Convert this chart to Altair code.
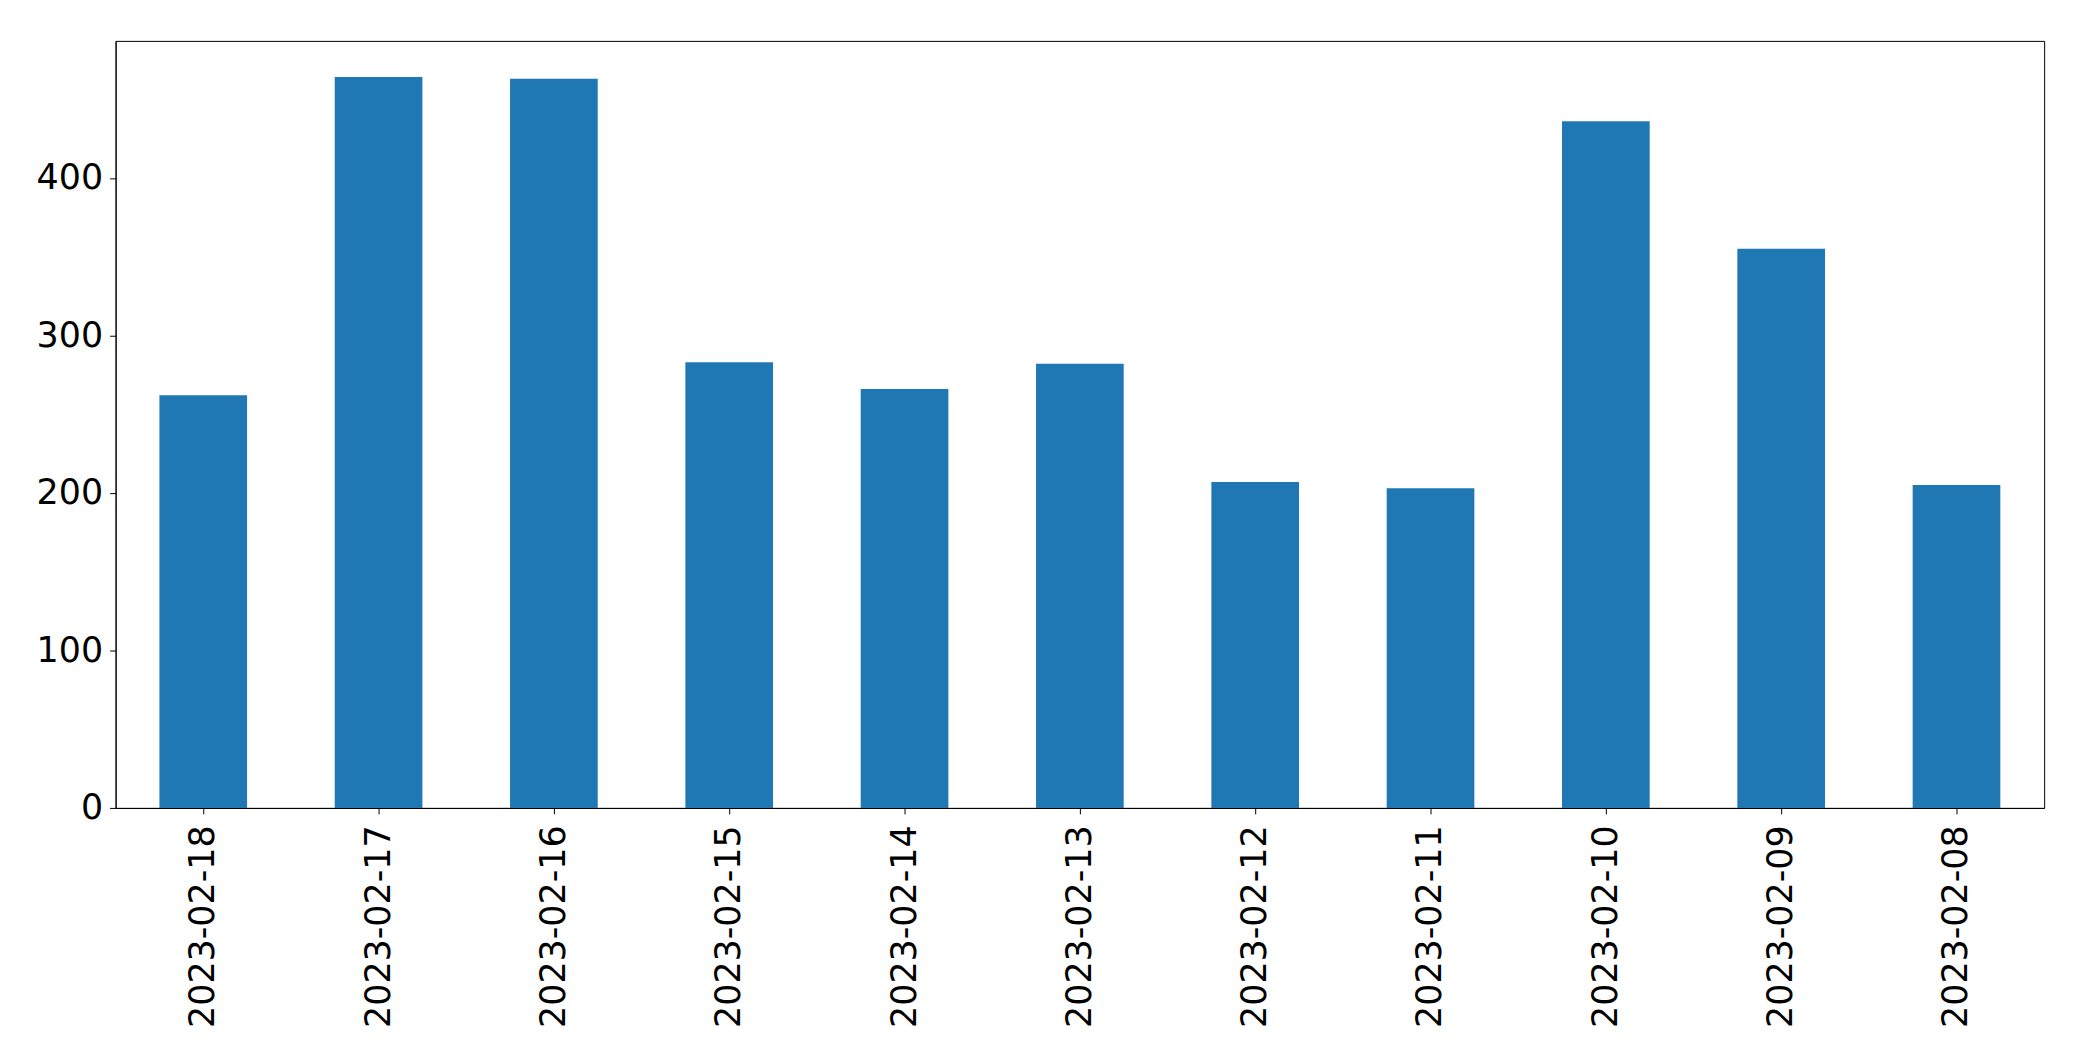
import altair as alt
import pandas as pd

dates = ["2023-02-18", "2023-02-17", "2023-02-16", "2023-02-15", "2023-02-14",
         "2023-02-13", "2023-02-12", "2023-02-11", "2023-02-10", "2023-02-09",
         "2023-02-08"]
values = [262, 464, 463, 283, 266, 282, 207, 203, 436, 355, 205]
y_ticks = [0, 100, 200, 300, 400]

df = pd.DataFrame({"date": dates, "value": values})

FONT = "DejaVu Sans"
FS = 35

chart = alt.Chart(df).mark_bar(color="#1f77b4").encode(
    x=alt.X("date:N", sort=None, title=None,
            scale=alt.Scale(paddingInner=0.5, paddingOuter=0.25),
            axis=alt.Axis(labelAngle=270, labelAlign="right", labelBaseline="middle",
                          labelPadding=11, tickSize=6, tickColor="black",
                          domainColor="black", labelColor="black", labelLimit=500,
                          labelFont=FONT, labelFontSize=FS, grid=False)),
    y=alt.Y("value:Q", title=None,
            scale=alt.Scale(domain=[0, 487], nice=False, zero=True),
            axis=alt.Axis(values=y_ticks, tickSize=6, labelPadding=7, tickColor="black",
                          domainColor="black", labelColor="black", labelLimit=500,
                          labelFont=FONT, labelFontSize=FS, grid=False)),
).properties(
    width=1936, height=770,
    autosize=alt.AutoSizeParams(type="none"),
    padding={"left": 108, "top": 31, "right": 41, "bottom": 240},
).configure_view(
    stroke="black", strokeWidth=1
).configure_axis(
    domainWidth=1, tickWidth=1
)

chart.save("out.html", embed_options={"renderer": "svg", "actions": False})
